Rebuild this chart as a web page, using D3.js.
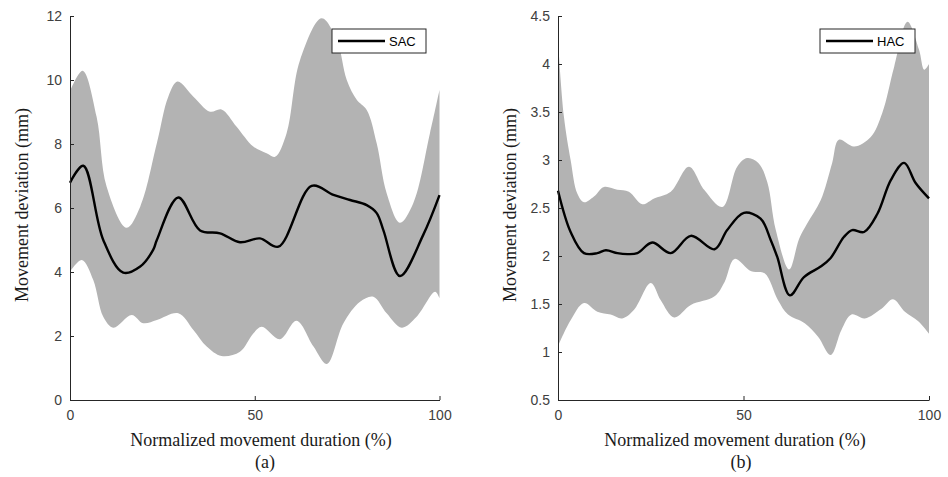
<!DOCTYPE html>
<html>
<head>
<meta charset="utf-8">
<script src="https://cdn.jsdelivr.net/npm/d3@7/dist/d3.min.js"></script>
<style>
  body { margin: 0; background: #fff; }
  svg { display: block; }
</style>
</head>
<body>
<div id="chart"></div>
<script>
// panel (a): SAC
const sacMeanX = [0, 3.6, 9, 14.4, 19, 22.5, 23.5, 29.3, 35.2, 40.6, 46, 51.4, 56.4, 65.4, 71.3, 75.8, 80.3, 83, 84.8, 89.3, 95.6, 100];
const sacMeanY = [6.79, 7.32, 5.0, 3.98, 4.17, 4.69, 5.0, 6.33, 5.3, 5.21, 4.93, 5.05, 4.79, 6.69, 6.41, 6.25, 6.09, 5.84, 5.31, 3.875, 5.16, 6.4];
const sacUpX = [0, 3.4, 7.2, 9.9, 15.3, 19, 23.5, 26.6, 29.1, 33.4, 37.9, 41, 45.1, 49.6, 53.2, 55.5, 58.6, 62.2, 68.1, 72.2, 74.9, 77.6, 80.3, 83, 85.7, 89.3, 92.9, 97.4, 100];
const sacUpY = [9.65, 10.29, 8.85, 6.67, 5.38, 6.04, 8.02, 9.48, 9.95, 9.48, 9.01, 9.08, 8.54, 7.92, 7.71, 7.6, 8.33, 10.6, 11.93, 11.25, 10.0, 9.38, 9.06, 8.02, 6.46, 5.54, 6.15, 8.33, 9.69];
const sacLowX = [0, 3.2, 6.3, 9, 11.7, 16.7, 19.8, 23.5, 29.3, 33.4, 37, 41, 46, 49.6, 51.9, 56.8, 61.3, 65.9, 69.5, 74, 78.5, 82.1, 85.7, 89.8, 93.8, 98.8, 100];
const sacLowY = [4.01, 4.375, 3.75, 2.6, 2.26, 2.66, 2.4, 2.5, 2.71, 2.19, 1.67, 1.375, 1.51, 2.08, 2.29, 1.9, 2.48, 1.67, 1.125, 2.4, 3.07, 3.23, 2.71, 2.26, 2.6, 3.38, 3.18];
const sacTicksY = [0, 2, 4, 6, 8, 10, 12];

// panel (b): HAC
const hacMeanX = [0, 3.4, 7, 10.6, 12.9, 16, 18.7, 21.4, 25.4, 30.4, 35.8, 42.2, 45.6, 50.1, 54.6, 57.3, 59.1, 62.5, 66.3, 70.8, 73.5, 77.1, 79.3, 82.5, 86.1, 89.7, 93.3, 96.4, 100];
const hacMeanY = [2.68, 2.25, 2.03, 2.03, 2.06, 2.03, 2.02, 2.03, 2.14, 2.03, 2.21, 2.07, 2.27, 2.45, 2.39, 2.17, 1.99, 1.59, 1.78, 1.89, 1.98, 2.2, 2.27, 2.25, 2.44, 2.79, 2.97, 2.76, 2.6];
const hacUpX = [0, 1.6, 3.4, 5.2, 7, 9.7, 12.4, 16, 19.1, 22.7, 25.9, 30.4, 35.3, 39.4, 44.3, 48.3, 51, 54, 56.4, 58.7, 62.3, 65, 67.2, 70.8, 73.9, 75.7, 79.8, 84.3, 87.4, 90.6, 94.2, 97.3, 98.7, 100];
const hacUpY = [4.25, 3.45, 3.0, 2.65, 2.56, 2.62, 2.72, 2.69, 2.67, 2.54, 2.6, 2.67, 2.93, 2.69, 2.51, 2.93, 3.02, 2.97, 2.77, 2.27, 1.86, 2.18, 2.34, 2.58, 2.97, 3.21, 3.14, 3.24, 3.49, 3.97, 4.44, 4.15, 3.94, 4.0];
const hacLowX = [0, 3.4, 7, 10.6, 14.2, 17.3, 20.5, 25, 27.7, 31.3, 35.8, 42.2, 44.9, 47.6, 52.1, 55.7, 59.3, 62, 66.5, 70.1, 73.5, 76.4, 79.1, 82.7, 87.2, 90.3, 93.5, 97.1, 100];
const hacLowY = [1.06, 1.33, 1.51, 1.42, 1.39, 1.35, 1.44, 1.72, 1.54, 1.36, 1.49, 1.58, 1.73, 1.97, 1.84, 1.82, 1.54, 1.39, 1.3, 1.16, 0.97, 1.23, 1.39, 1.35, 1.45, 1.55, 1.42, 1.32, 1.19];
const hacTicksY = [0.5, 1, 1.5, 2, 2.5, 3, 3.5, 4, 4.5];

const ticksX = [0, 50, 100];
const axisColor = '#262626';
const bandColor = '#b3b3b3';

const svg = d3.select('#chart').append('svg').attr('width', 948).attr('height', 477);

const zip = (xs, ys) => xs.map((x, i) => [x, ys[i]]);

function drawPanel(opts) {
  const x = d3.scaleLinear().domain([0, 100]).range([opts.left, opts.right]);
  const y = d3.scaleLinear().domain(opts.yDomain).range([400, 16]);
  const g = svg.append('g');

  const line = d3.line().x((d) => x(d[0])).y((d) => y(d[1])).curve(d3.curveCatmullRom.alpha(0.5));

  // shaded band: upper edge forwards, lower edge backwards
  const up = zip(opts.upX, opts.upY);
  const low = zip(opts.lowX, opts.lowY).reverse();
  const bandPath = line(up) + 'L' + line(low).slice(1) + 'Z';
  g.append('path').attr('d', bandPath).attr('fill', bandColor).attr('stroke', 'none');

  g.append('path')
    .attr('d', line(zip(opts.meanX, opts.meanY)))
    .attr('fill', 'none')
    .attr('stroke', '#000')
    .attr('stroke-width', 2.4);

  // axes, ticks drawn inside like matlab
  const xAxis = d3.axisBottom(x).tickValues(ticksX).tickSizeInner(-4).tickSizeOuter(0).tickPadding(10);
  const yAxis = d3.axisLeft(y).tickValues(opts.ticksY).tickSizeInner(-4).tickSizeOuter(0).tickPadding(8)
    .tickFormat(d3.format('~g'));

  const gx = g.append('g').attr('transform', 'translate(0,400)').call(xAxis);
  const gy = g.append('g').attr('transform', `translate(${opts.left},0)`).call(yAxis);
  [gx, gy].forEach((a) => {
    a.select('.domain').attr('stroke', axisColor).attr('stroke-width', 1);
    a.selectAll('.tick line').attr('stroke', axisColor);
    a.selectAll('.tick text')
      .attr('fill', '#404040')
      .style('font-family', '"Liberation Sans", Arial, sans-serif')
      .style('font-size', '14px');
  });
  gx.selectAll('.tick text').attr('dy', '0.71em');

  // labels
  const serif = '"Liberation Serif", "Times New Roman", serif';
  g.append('text')
    .attr('x', opts.labelX)
    .attr('y', 446)
    .attr('text-anchor', 'middle')
    .style('font-family', serif)
    .style('font-size', '18px')
    .attr('fill', '#1a1a1a')
    .text('Normalized movement duration (%)');
  g.append('text')
    .attr('x', opts.captionX)
    .attr('y', 468)
    .attr('text-anchor', 'middle')
    .style('font-family', serif)
    .style('font-size', '18px')
    .attr('fill', '#1a1a1a')
    .text(opts.caption);
  g.append('text')
    .attr('transform', `translate(${opts.left - 42},205) rotate(-90)`)
    .attr('text-anchor', 'middle')
    .style('font-family', serif)
    .style('font-size', '18px')
    .attr('fill', '#1a1a1a')
    .text('Movement deviation (mm)');

  // legend
  const lg = g.append('g').attr('transform', `translate(${opts.legendX},29)`);
  lg.append('rect').attr('width', opts.legendW).attr('height', 24)
    .attr('fill', '#fff').attr('stroke', axisColor).attr('stroke-width', 1);
  lg.append('line').attr('x1', 6).attr('x2', 53).attr('y1', 12).attr('y2', 12)
    .attr('stroke', '#000').attr('stroke-width', 2.4);
  lg.append('text').attr('x', 57).attr('y', 17)
    .style('font-family', '"Liberation Sans", Arial, sans-serif')
    .style('font-size', '13px')
    .attr('fill', '#000')
    .text(opts.name);
}

drawPanel({
  left: 70, right: 439.5, yDomain: [0, 12], ticksY: sacTicksY,
  meanX: sacMeanX, meanY: sacMeanY, upX: sacUpX, upY: sacUpY, lowX: sacLowX, lowY: sacLowY,
  caption: '(a)', name: 'SAC', legendX: 332, legendW: 94, labelX: 261, captionX: 265,
});
drawPanel({
  left: 558, right: 929, yDomain: [0.5, 4.5], ticksY: hacTicksY,
  meanX: hacMeanX, meanY: hacMeanY, upX: hacUpX, upY: hacUpY, lowX: hacLowX, lowY: hacLowY,
  caption: '(b)', name: 'HAC', legendX: 820, legendW: 95, labelX: 735, captionX: 741,
});
</script>
</body>
</html>
